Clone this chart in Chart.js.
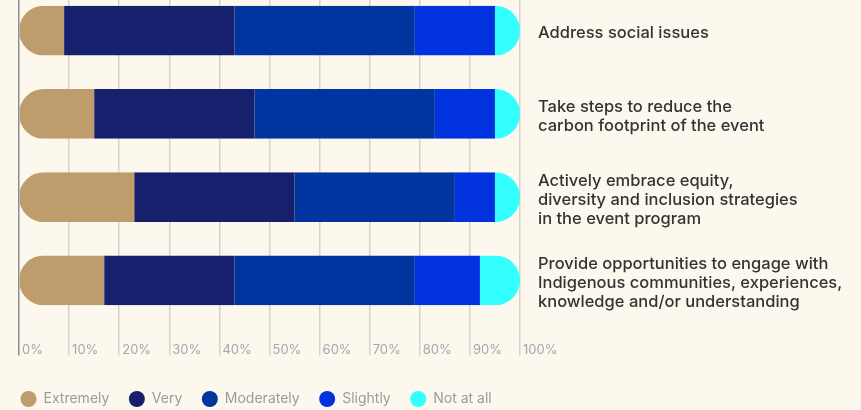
<!DOCTYPE html>
<html lang="en">
<head>
    <meta charset="UTF-8">
    <title>Event priorities</title>
    <script src="https://cdn.jsdelivr.net/npm/chart.js@4.4.1/dist/chart.umd.min.js"></script>
    <style>
        html, body { margin: 0; padding: 0; background: #fcf8ed; overflow: hidden; }
        #wrap { position: absolute; left: 0; top: -11px; width: 861px; height: 427px; }
    </style>
</head>
<body>
<div id="wrap"><canvas id="myChart"></canvas></div>

<script>
const categories = [
    'Address social issues',
    ['Take steps to reduce the', 'carbon footprint of the event'],
    ['Actively embrace equity,', 'diversity and inclusion strategies', 'in the event program'],
    ['Provide opportunities to engage with', 'Indigenous communities, experiences,', 'knowledge and/or understanding']
];
const extremely = [9, 15, 23, 17];
const very = [34, 32, 32, 26];
const moderately = [36, 36, 32, 36];
const slightly = [16, 12, 8, 13];
const notAtAll = [5, 5, 5, 8];
const xTicks = [0, 10, 20, 30, 40, 50, 60, 70, 80, 90, 100];

// round the two ends of every stacked bar
const roundEnds = {
    id: 'roundEnds',
    beforeDatasetsDraw(chart) {
        const ctx = chart.ctx;
        const x = chart.scales.x;
        const meta = chart.getDatasetMeta(0);
        ctx.save();
        ctx.beginPath();
        meta.data.forEach((bar, i) => {
            let total = 0;
            chart.data.datasets.forEach(d => { total += d.data[i]; });
            const left = x.getPixelForValue(0);
            const right = x.getPixelForValue(total);
            const h = bar.height;
            ctx.roundRect(left, bar.y - h / 2, right - left, h, h / 2);
        });
        ctx.clip();
    },
    afterDatasetsDraw(chart) {
        chart.ctx.restore();
    }
};

function ds(label, data, color) {
    return { label: label, data: data, backgroundColor: color, borderWidth: 0,
             categoryPercentage: 0.6, barPercentage: 1 };
}

new Chart(document.getElementById('myChart'), {
    type: 'bar',
    data: {
        labels: categories,
        datasets: [
            ds('Extremely', extremely, '#be9c6b'),
            ds('Very', very, '#16206d'),
            ds('Moderately', moderately, '#0035a0'),
            ds('Slightly', slightly, '#0033dd'),
            ds('Not at all', notAtAll, '#33ffff')
        ]
    },
    options: {
        indexAxis: 'y',
        responsive: true,
        maintainAspectRatio: false,
        animation: false,
        layout: { padding: { left: 1, right: 0, top: 0, bottom: 0 } },
        scales: {
            x: {
                stacked: true,
                min: 0,
                max: 100,
                afterBuildTicks(scale) { scale.ticks = xTicks.map(v => ({ value: v })); },
                afterFit(scale) { scale.paddingLeft = 19; scale.paddingRight = 0; scale.height = 50.5; },
                border: { display: false },
                grid: {
                    color: c => c.index === 0 ? '#8c8c8c' : '#d6d3cb',
                    lineWidth: 1.5,
                    tickLength: 33.5
                },
                ticks: {
                    align: 'start',
                    labelOffset: 3,
                    padding: -13.3,
                    color: '#a3a6ae',
                    font: { family: 'Inter', size: 13 },
                    callback: v => v + '%'
                }
            },
            y: {
                stacked: true,
                position: 'right',
                afterFit(scale) { scale.width = 341; scale.paddingTop = 0; scale.paddingBottom = 0; },
                border: { display: false },
                grid: { display: false, drawTicks: false },
                ticks: {
                    crossAlign: 'near',
                    padding: 18,
                    labelOffset: 2.5,
                    color: '#333333',
                    font: { family: 'Inter', size: 16.5, weight: 500, lineHeight: 1.15 }
                }
            }
        },
        plugins: {
            legend: {
                position: 'bottom',
                align: 'start',
                labels: {
                    usePointStyle: true,
                    pointStyle: 'circle',
                    pointStyleWidth: 16,
                    boxHeight: 11.3,
                    padding: 19.5,
                    color: '#9b9b9b',
                    font: { family: 'Inter', size: 14 }
                }
            },
            tooltip: { enabled: false }
        }
    },
    plugins: [roundEnds]
});
</script>
</body>
</html>
